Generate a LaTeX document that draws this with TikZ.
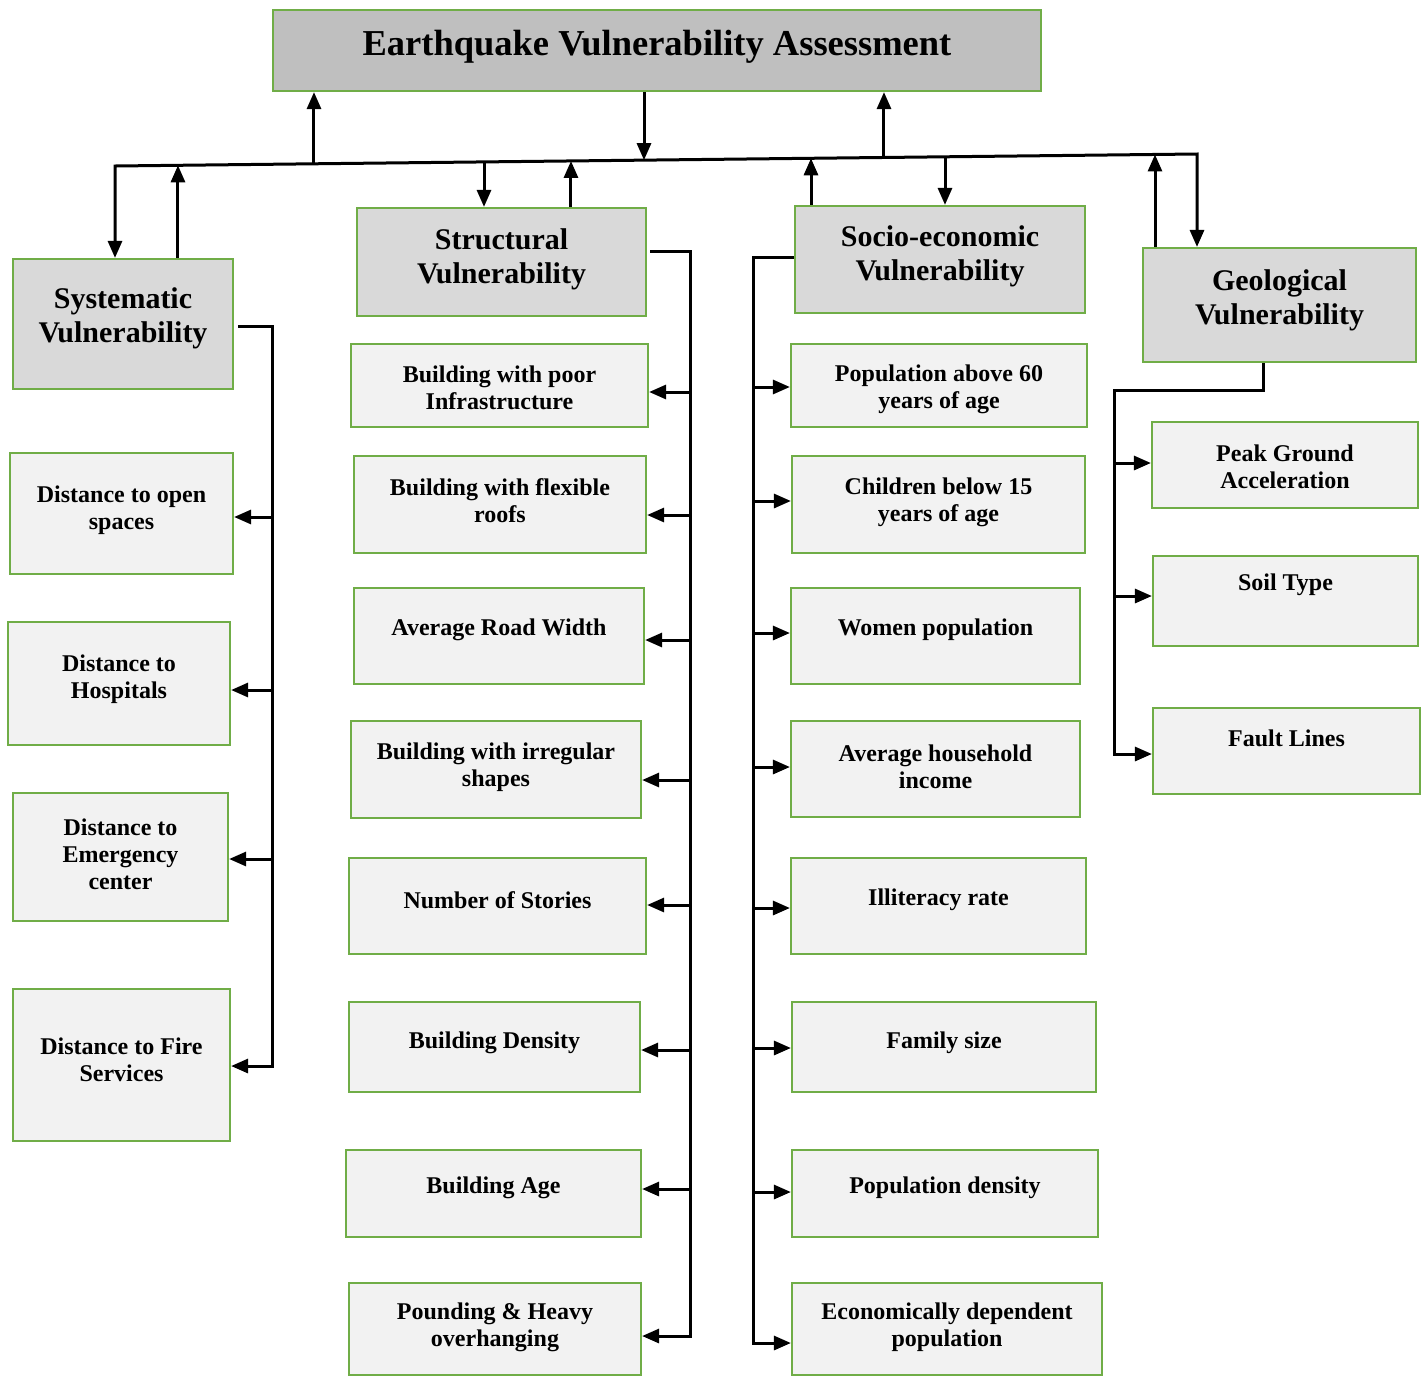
\documentclass[tikz,border=0pt]{standalone}
\usepackage{fontspec}
\setmainfont{Liberation Serif}
\usetikzlibrary{arrows.meta,calc}
\definecolor{bgreen}{HTML}{70AD47}
\definecolor{topfill}{HTML}{BFBFBF}
\definecolor{hdfill}{HTML}{D9D9D9}
\definecolor{lffill}{HTML}{F2F2F2}
\tikzset{
  boxbase/.style={draw=bgreen, line width=2.2pt, inner sep=0pt},
  topbox/.style={boxbase, fill=topfill},
  hdbox/.style={boxbase, fill=hdfill},
  lfbox/.style={boxbase, fill=lffill},
  textbase/.style={align=center, inner sep=0pt, yshift=-3pt},
  toptext/.style={textbase, font=\bfseries\fontsize{36.5}{40}\selectfont},
  hdtext/.style={textbase, font=\bfseries\fontsize{30}{34}\selectfont},
  lftext/.style={textbase, font=\bfseries\fontsize{24}{27}\selectfont},
  conn/.style={line width=3pt, black},
  tipshape/.style={Triangle[length=17pt,width=14pt]},
  arr/.style={-{Triangle[length=17pt,width=14pt]}},
  arrboth/.style={{Triangle[length=17pt,width=14pt]}-{Triangle[length=17pt,width=14pt]}},
}
\newcommand\mybox[8]{%
  \node[#2box, minimum width={#5-#3}, minimum height={#6-#4}] (#1) at ({(#3+#5)/2},{(#4+#6)/2}) {};
  \node[#2text] (#1t) at ({(#3+#5)/2},#7) {#8};}
\begin{document}
\begin{tikzpicture}[x=1pt,y=-1pt]
\useasboundingbox[fill=white] (0,0) rectangle (1427,1377);
% main boxes
\mybox{top}{top}{273}{10}{1041}{91}{44}{Earthquake Vulnerability Assessment}
\mybox{sys}{hd}{13}{259}{233}{389}{315}{Systematic\\Vulnerability}
\mybox{str}{hd}{357}{208}{646}{316}{256}{Structural\\Vulnerability}
\mybox{soc}{hd}{795}{206}{1085}{313}{253}{Socio-economic\\Vulnerability}
\mybox{geo}{hd}{1143}{248}{1416}{362}{297}{Geological\\Vulnerability}
% systematic leaves
\mybox{sd1}{lf}{10}{453}{233}{574}{507}{Distance to open\\spaces}
\mybox{sd2}{lf}{8}{622}{230}{745}{676}{Distance to\\Hospitals}
\mybox{sd3}{lf}{13}{793}{228}{921}{851}{Distance to\\Emergency\\center}
\mybox{sd4}{lf}{13}{989}{230}{1141}{1057}{Distance to Fire\\Services}
% structural leaves
\mybox{s1}{lf}{351}{344}{648}{427}{385}{Building with poor\\Infrastructure}
\mybox{s2}{lf}{354}{456}{646}{553}{498}{Building with flexible\\roofs}
\mybox{s3}{lf}{354}{588}{644}{684}{627}{Average Road Width}
\mybox{s4}{lf}{351}{721}{641}{818}{764}{Building with irregular\\shapes}
\mybox{s5}{lf}{349}{858}{646}{954}{897}{Number of Stories}
\mybox{s6}{lf}{349}{1002}{640}{1092}{1040}{Building Density}
\mybox{s7}{lf}{346}{1150}{641}{1237}{1185}{Building Age}
\mybox{s8}{lf}{349}{1283}{641}{1375}{1324}{Pounding \& Heavy\\overhanging}
% socio-economic leaves
\mybox{e1}{lf}{791}{344}{1087}{427}{386}{Population above 60\\years of age}
\mybox{e2}{lf}{792}{456}{1085}{553}{499}{Children below 15\\years of age}
\mybox{e3}{lf}{791}{588}{1080}{684}{627}{Women population}
\mybox{e4}{lf}{791}{721}{1080}{817}{764}{Average household\\income}
\mybox{e5}{lf}{791}{858}{1086}{954}{897}{Illiteracy rate}
\mybox{e6}{lf}{792}{1002}{1096}{1092}{1040}{Family size}
\mybox{e7}{lf}{792}{1150}{1098}{1237}{1185}{Population density}
\mybox{e8}{lf}{792}{1283}{1102}{1375}{1324}{Economically dependent\\population}
% geological leaves
\mybox{g1}{lf}{1152}{422}{1418}{508}{464}{Peak Ground\\Acceleration}
\mybox{g2}{lf}{1153}{556}{1418}{646}{582}{Soil Type}
\mybox{g3}{lf}{1153}{708}{1420}{794}{735}{Fault Lines}
% main (slightly slanted) line
\coordinate (mlL) at (115,166);
\coordinate (mlR) at (1197,154);
\draw[conn,arrboth] (sys.north -| mlL) -- (mlL) -- (mlR) -- (geo.north -| mlR);
\foreach \n/\x in {a1/314,a2/644,a3/884,a4/178,a5/484,a6/571,a7/811,a8/945,a9/1155}
  \coordinate (\n) at ($(mlL)!{(\x-115)/1082}!(mlR)$);
\draw[conn,arr] (a1) -- (a1 |- top.south);
\draw[conn,arr] (top.south -| a2) -- (a2);
\draw[conn,arr] (a3) -- (a3 |- top.south);
\draw[conn,arr] (sys.north -| a4) -- (a4);
\draw[conn,arr] (a5) -- (a5 |- str.north);
\draw[conn,arr] (str.north -| a6) -- (a6);
\draw[conn,arr] (soc.north -| a7) -- (a7);
\draw[conn,arr] (a8) -- (a8 |- soc.north);
\draw[conn,arr] (geo.north -| a9) -- (a9);
% systematic branch
\draw[conn,arr] ($(sys.east |- 0,326)+(4,0)$) -- (272,326) -- (272,1066) -- (sd4.east |- 0,1066);
\foreach \n/\y in {sd1/517,sd2/690,sd3/859}
  \draw[conn,arr] (272,\y) -- (\n.east |- 0,\y);
% structural branch
\draw[conn,arr] ($(str.east |- 0,251)+(3,0)$) -- (690,251) -- (690,1336) -- (s8.east |- 0,1336);
\foreach \n/\y in {s1/392,s2/515,s3/640,s4/780,s5/905,s6/1050,s7/1189}
  \draw[conn,arr] (690,\y) -- (\n.east |- 0,\y);
% socio-economic branch
\draw[conn,arr] (soc.west |- 0,257) -- (753,257) -- (753,1343) -- (e8.west |- 0,1343);
\foreach \n/\y in {e1/387,e2/501,e3/633,e4/767,e5/908,e6/1048,e7/1192}
  \draw[conn,arr] (753,\y) -- (\n.west |- 0,\y);
% geological branch
\draw[conn,arr] (geo.south -| 1263,0) -- (1263,390) -- (1114,390) -- (1114,754) -- (g3.west |- 0,754);
\foreach \n/\y in {g1/463,g2/596}
  \draw[conn,arr] (1114,\y) -- (\n.west |- 0,\y);
\end{tikzpicture}
\end{document}
